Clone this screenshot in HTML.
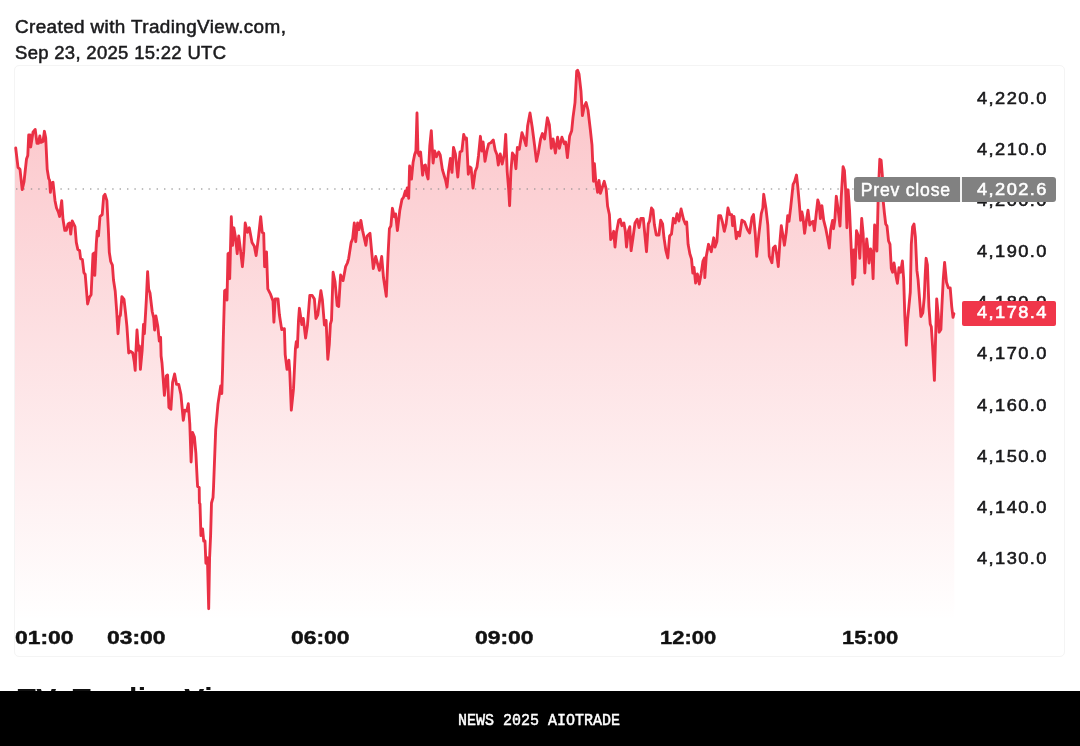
<!DOCTYPE html>
<html lang="en">
<head>
<meta charset="utf-8">
<title>TradingView chart</title>
<style>
html,body{margin:0;padding:0;background:#fff;}
body{width:1080px;height:746px;position:relative;overflow:hidden;font-family:"Liberation Sans",sans-serif;color:#1c1c1e;}
.hdr{position:absolute;left:14.5px;top:14.8px;font-size:17.6px;line-height:25.8px;font-weight:400;color:#1b1b1d;-webkit-text-stroke:0.5px #1b1b1d;white-space:nowrap;}
.hdr span{display:block;transform-origin:0 50%;}
.hdr .l1{letter-spacing:0.35px;transform:scaleX(1.075);}
.hdr .l2{letter-spacing:0.3px;transform:scaleX(1.05);}
.frame{position:absolute;left:14px;top:65px;width:1049px;height:590.4px;border:1px solid #f4f4f4;border-radius:5px;box-sizing:content-box;}
svg.chart{position:absolute;left:0;top:0;}
.pl{position:absolute;left:976.6px;width:80px;height:20px;line-height:20px;font-size:16.6px;letter-spacing:1.3px;color:#19191b;-webkit-text-stroke:0.55px #19191b;white-space:nowrap;transform-origin:0 50%;transform:scaleX(1.1);}
.tl{position:absolute;top:628.1px;height:20px;line-height:20px;font-size:17.6px;font-weight:700;color:#111;white-space:nowrap;transform-origin:0 50%;transform:scaleX(1.30);-webkit-text-stroke:0.4px #111;}
.prev{position:absolute;left:853.7px;top:176.5px;width:202.5px;height:25.2px;background:#818181;border-radius:3px;color:#fff;font-size:16.6px;line-height:26px;white-space:nowrap;}
.prev .a{position:absolute;left:7px;top:0px;font-size:17.6px;letter-spacing:0.8px;-webkit-text-stroke:0.5px #fff;}
.prev .sep{position:absolute;left:106.5px;top:0;width:1.5px;height:25.2px;background:#f4f4f4;}
.prev .b{position:absolute;left:122.9px;top:0.3px;letter-spacing:1.3px;-webkit-text-stroke:0.55px #fff;transform-origin:0 50%;transform:scaleX(1.1);}
.last{position:absolute;left:962px;top:301px;width:94px;height:24.5px;background:#f0364a;border-radius:2px;color:#fff;font-size:16.6px;line-height:24.5px;white-space:nowrap;}
.last span{position:absolute;left:14.6px;top:0;letter-spacing:1.3px;-webkit-text-stroke:0.55px #fff;transform-origin:0 50%;transform:scaleX(1.1);}
.brand{position:absolute;left:17.5px;top:684.2px;font-size:30px;font-weight:700;line-height:30px;color:#111;white-space:nowrap;letter-spacing:0.5px;}
.bar{position:absolute;left:0;top:691px;width:1080px;height:55px;background:#000;}
.bar span{position:absolute;left:458px;top:22.2px;width:162px;text-align:center;font-family:"Liberation Mono",monospace;font-size:15px;transform:scaleY(1.06);-webkit-text-stroke:0.45px #fff;line-height:18px;color:#fff;white-space:nowrap;}
</style>
</head>
<body>
<div class="hdr"><span class="l1">Created with TradingView.com,</span><span class="l2">Sep 23, 2025 15:22 UTC</span></div>
<div class="frame"></div>
<svg class="chart" width="1080" height="691" viewBox="0 0 1080 691">
<defs>
<linearGradient id="g" gradientUnits="userSpaceOnUse" x1="0" y1="66" x2="0" y2="622">
<stop offset="0" stop-color="#f23645" stop-opacity="0.30"/>
<stop offset="1" stop-color="#f23645" stop-opacity="0"/>
</linearGradient>
</defs>
<path d="M15.7,148.0 L18.0,167.4 L20.0,169.3 L22.2,189.6 L24.0,182.0 L26.5,159.0 L27.8,155.4 L28.7,135.0 L30.0,135.0 L30.7,147.0 L33.0,132.2 L35.2,129.4 L37.0,143.3 L38.5,143.3 L39.8,136.0 L41.0,142.4 L43.0,141.5 L44.4,131.3 L45.7,137.8 L47.2,169.3 L48.7,178.5 L49.6,180.4 L50.4,192.4 L51.5,183.0 L53.0,182.2 L55.0,200.7 L56.5,208.0 L58.3,211.9 L59.6,216.5 L61.7,200.7 L63.0,219.3 L64.8,230.4 L66.3,230.4 L68.1,223.9 L69.6,223.0 L70.7,234.0 L72.2,221.0 L75.0,226.7 L76.3,242.4 L77.8,249.4 L79.6,250.4 L80.6,258.7 L82.4,259.6 L83.9,272.6 L85.2,274.4 L87.6,304.0 L89.3,297.6 L91.1,294.8 L93.0,254.0 L94.4,253.0 L94.8,275.4 L96.3,243.9 L97.2,231.3 L98.5,236.0 L100.0,216.5 L102.2,214.6 L103.7,196.0 L105.0,194.3 L106.9,200.7 L108.3,228.5 L109.3,252.2 L110.7,261.5 L112.4,265.2 L113.5,280.0 L115.2,291.0 L116.7,311.5 L118.0,333.7 L119.4,317.0 L120.4,315.2 L121.9,296.7 L124.0,299.4 L125.6,313.3 L126.9,326.3 L128.7,353.0 L130.6,351.3 L132.8,353.0 L134.3,362.0 L135.2,370.4 L136.0,350.0 L137.0,330.0 L138.5,350.4 L139.4,346.0 L140.4,369.4 L142.2,350.0 L143.5,324.4 L144.4,333.7 L146.3,300.4 L147.6,271.7 L148.7,289.3 L150.0,293.0 L152.2,311.5 L153.7,318.0 L154.6,330.0 L155.9,316.0 L157.8,326.3 L159.3,341.0 L160.6,337.4 L161.1,356.0 L162.0,363.0 L164.4,395.4 L166.3,376.0 L167.6,375.0 L168.9,407.4 L170.9,409.3 L172.6,382.4 L174.6,374.0 L176.5,384.3 L178.7,384.3 L180.9,394.4 L183.3,420.4 L184.8,410.2 L186.7,411.0 L188.3,403.7 L189.8,424.0 L191.1,462.0 L192.6,432.4 L194.4,437.0 L195.9,453.7 L197.2,479.6 L197.6,486.5 L199.2,487.4 L199.4,503.0 L200.0,504.0 L200.9,535.6 L202.6,529.0 L203.7,541.0 L205.0,541.0 L205.9,563.3 L207.4,557.8 L208.7,608.7 L209.6,557.8 L210.6,535.6 L211.5,503.0 L213.0,497.6 L213.5,488.0 L215.7,429.6 L218.0,403.7 L219.4,394.4 L220.7,386.0 L221.8,393.5 L222.6,368.0 L223.3,338.0 L224.6,290.7 L226.1,289.8 L227.0,300.0 L228.0,253.7 L229.3,252.8 L229.7,278.7 L231.3,216.7 L232.6,245.4 L233.9,227.8 L235.7,238.9 L237.2,253.7 L238.7,236.0 L240.6,251.0 L242.4,266.7 L243.7,251.9 L245.2,223.0 L247.4,232.4 L249.3,227.8 L252.0,242.6 L254.3,246.3 L256.1,255.6 L258.5,237.0 L260.7,216.7 L262.2,232.4 L263.7,233.3 L264.6,266.7 L266.5,251.9 L267.8,288.9 L270.6,294.4 L273.0,301.0 L273.9,322.2 L275.2,299.0 L278.0,299.0 L279.4,314.8 L281.7,329.6 L284.4,328.7 L285.2,354.6 L287.0,369.4 L288.9,360.2 L289.8,372.2 L291.3,410.2 L293.5,388.9 L295.4,349.0 L296.3,341.7 L297.4,347.0 L298.5,320.4 L299.4,308.3 L301.8,324.5 L303.3,318.5 L305.6,338.0 L307.5,325.0 L309.8,295.4 L312.2,295.4 L314.4,299.0 L315.9,318.5 L317.8,314.8 L320.9,290.7 L322.4,300.0 L324.4,325.0 L326.1,320.4 L327.8,359.3 L329.3,344.4 L330.4,324.0 L331.5,320.4 L333.1,272.2 L335.0,281.5 L337.2,305.6 L338.7,306.5 L340.6,275.0 L343.1,280.6 L345.6,266.7 L347.4,263.0 L348.7,258.3 L351.1,242.6 L352.6,238.9 L354.3,223.0 L355.7,241.7 L357.6,223.0 L359.0,229.6 L360.9,220.4 L362.6,230.6 L365.9,245.4 L367.2,236.0 L370.0,233.3 L371.5,250.0 L373.3,268.5 L375.7,256.5 L377.6,263.9 L379.4,270.4 L381.7,256.5 L383.5,277.8 L386.3,296.3 L388.1,253.7 L389.4,228.7 L390.9,225.9 L392.4,208.3 L394.3,216.7 L395.6,213.9 L397.4,230.6 L399.3,214.8 L399.8,210.4 L402.0,199.3 L403.5,197.4 L405.4,191.0 L406.3,195.6 L407.2,188.0 L408.7,198.3 L409.6,166.0 L411.5,179.0 L413.1,162.2 L414.6,154.8 L415.9,151.0 L417.0,113.0 L418.0,153.0 L419.3,155.7 L420.6,152.0 L422.6,175.2 L423.9,166.0 L425.4,165.0 L426.7,174.3 L428.1,179.0 L429.8,145.6 L431.3,130.7 L433.1,163.0 L434.6,151.0 L436.5,156.7 L438.7,152.0 L440.2,154.8 L442.4,169.6 L444.3,176.0 L445.7,180.7 L447.0,187.2 L448.5,171.5 L450.4,158.5 L452.0,172.4 L453.5,147.4 L455.4,153.9 L457.8,177.0 L460.0,152.0 L461.9,151.0 L463.7,134.4 L465.2,139.0 L466.5,138.0 L468.3,174.3 L469.8,166.9 L471.1,167.8 L473.0,188.0 L475.2,171.5 L477.0,166.9 L478.5,155.7 L480.4,136.3 L481.9,151.0 L483.1,141.9 L485.0,161.3 L486.9,151.0 L488.7,143.7 L490.9,142.8 L493.3,140.0 L495.2,150.2 L497.0,154.8 L498.3,165.0 L500.2,153.9 L502.2,164.0 L504.4,153.9 L505.7,134.4 L507.2,171.5 L508.7,190.0 L509.6,205.7 L510.9,171.5 L512.4,153.0 L514.3,155.7 L515.9,168.7 L517.4,147.4 L519.3,149.3 L522.0,132.6 L523.9,138.0 L526.1,145.6 L527.6,126.0 L530.0,113.0 L532.2,127.0 L534.6,145.6 L536.5,161.3 L538.3,153.0 L540.6,139.0 L542.4,133.5 L544.6,139.0 L547.4,117.8 L549.4,125.0 L551.3,148.3 L553.1,139.0 L555.4,153.0 L557.6,137.2 L559.4,148.3 L561.9,137.2 L564.3,143.7 L565.6,141.9 L567.4,157.6 L569.6,136.3 L571.7,130.7 L573.0,117.4 L575.0,102.6 L576.7,71.0 L577.6,70.2 L579.0,74.0 L581.0,91.5 L582.4,115.6 L584.3,106.3 L586.1,102.6 L588.0,110.0 L590.2,128.5 L592.0,145.2 L593.5,181.3 L594.4,163.7 L595.7,180.4 L597.6,192.4 L599.0,180.4 L600.4,193.3 L602.2,187.8 L604.2,181.3 L606.2,189.0 L607.6,206.3 L609.4,214.6 L610.7,239.6 L612.2,236.9 L613.7,231.3 L615.0,247.0 L616.5,232.2 L618.7,220.2 L620.2,219.3 L621.9,225.7 L623.9,223.0 L625.2,230.4 L626.5,247.0 L628.3,231.3 L629.8,226.7 L631.1,250.7 L633.0,237.8 L635.0,223.0 L637.2,219.3 L639.1,227.6 L640.9,218.3 L643.3,218.3 L644.6,232.2 L646.5,251.7 L648.3,223.9 L649.6,221.0 L651.5,208.0 L653.0,210.0 L654.4,224.8 L656.3,235.0 L658.9,235.0 L660.7,220.2 L662.6,223.9 L664.0,237.8 L665.9,250.7 L667.8,258.0 L669.6,236.0 L671.5,234.0 L673.3,218.3 L675.2,223.0 L677.0,213.7 L678.9,221.0 L681.1,209.0 L683.5,219.3 L685.4,223.9 L686.7,222.0 L688.1,244.3 L690.0,254.4 L691.5,259.0 L692.8,273.0 L694.0,267.4 L695.6,283.0 L697.4,273.9 L699.3,284.0 L701.1,273.9 L703.0,261.0 L704.4,258.0 L704.8,277.6 L706.3,256.3 L708.5,244.3 L711.3,251.7 L713.7,237.8 L715.0,247.0 L716.9,241.5 L718.7,215.6 L720.6,215.6 L722.4,222.0 L724.3,231.3 L726.1,223.9 L728.0,208.0 L729.8,214.6 L731.7,214.6 L732.6,225.7 L734.0,216.5 L736.3,238.7 L738.1,232.2 L739.6,236.0 L741.9,220.2 L744.6,222.0 L747.4,229.4 L749.6,233.0 L752.0,217.4 L753.5,214.6 L755.2,233.0 L756.7,256.3 L758.9,234.0 L761.3,213.7 L762.8,208.0 L763.7,194.3 L765.9,208.0 L767.8,224.8 L769.3,256.3 L771.9,262.8 L773.3,248.0 L775.2,246.0 L776.7,254.4 L778.3,266.5 L779.8,243.3 L781.3,225.7 L783.0,236.0 L784.4,245.2 L786.3,232.0 L787.7,215.6 L789.0,221.3 L790.7,207.4 L793.1,184.3 L794.6,181.5 L796.5,175.0 L797.8,187.0 L799.3,203.7 L800.6,220.4 L801.9,212.0 L803.0,217.6 L804.6,233.3 L806.1,222.2 L808.0,210.2 L809.8,225.0 L811.7,222.2 L813.0,221.3 L814.4,230.6 L816.3,213.0 L817.8,200.0 L819.0,203.7 L820.4,218.5 L821.9,205.6 L823.7,220.4 L825.6,227.8 L827.4,237.0 L829.3,248.0 L830.7,229.6 L832.6,220.4 L833.5,228.7 L834.8,220.4 L836.3,196.3 L838.1,209.3 L840.0,226.0 L841.3,196.3 L843.1,166.7 L844.4,170.4 L845.6,189.0 L846.9,227.8 L848.1,189.8 L849.6,211.0 L851.1,246.3 L852.8,284.3 L853.9,250.0 L854.8,277.8 L856.5,230.6 L858.3,236.0 L859.8,258.3 L861.7,218.5 L863.1,233.3 L864.8,273.0 L866.7,239.0 L868.1,251.0 L869.0,263.0 L870.6,249.0 L871.9,253.7 L873.1,278.7 L874.6,225.0 L876.9,251.0 L878.3,192.6 L879.8,159.3 L881.1,160.2 L882.4,176.0 L883.3,202.0 L884.4,213.0 L885.7,224.0 L887.0,226.0 L888.5,240.7 L890.0,244.4 L891.3,268.5 L892.6,272.2 L894.0,263.0 L896.0,276.0 L897.4,283.3 L899.0,267.6 L900.6,272.2 L902.4,261.0 L903.7,279.6 L904.8,315.6 L906.3,345.2 L907.6,319.3 L908.9,306.3 L910.3,292.0 L911.3,244.4 L912.6,226.9 L914.0,224.0 L915.4,237.0 L916.9,270.4 L918.1,279.6 L918.7,287.8 L920.9,316.5 L922.8,312.8 L924.3,297.0 L925.2,275.0 L926.1,258.3 L927.4,264.8 L928.9,306.3 L930.2,323.9 L931.3,326.7 L932.6,347.0 L934.4,380.4 L935.7,334.0 L936.7,298.9 L938.1,313.7 L939.1,332.2 L940.9,329.4 L941.9,306.3 L943.3,278.5 L944.6,262.4 L946.5,282.2 L948.3,287.8 L950.2,287.8 L951.7,306.3 L953.0,317.4 L953.9,313.7 L954.3,313.7 L954.3,622 L15,622 L15,148.0 Z" fill="url(#g)" stroke="none"/>
<line x1="16" y1="189" x2="856" y2="189" stroke="#8c8c8c" stroke-opacity="0.75" stroke-width="1.4" stroke-dasharray="1.4 6" />
<path d="M15.7,148.0 L18.0,167.4 L20.0,169.3 L22.2,189.6 L24.0,182.0 L26.5,159.0 L27.8,155.4 L28.7,135.0 L30.0,135.0 L30.7,147.0 L33.0,132.2 L35.2,129.4 L37.0,143.3 L38.5,143.3 L39.8,136.0 L41.0,142.4 L43.0,141.5 L44.4,131.3 L45.7,137.8 L47.2,169.3 L48.7,178.5 L49.6,180.4 L50.4,192.4 L51.5,183.0 L53.0,182.2 L55.0,200.7 L56.5,208.0 L58.3,211.9 L59.6,216.5 L61.7,200.7 L63.0,219.3 L64.8,230.4 L66.3,230.4 L68.1,223.9 L69.6,223.0 L70.7,234.0 L72.2,221.0 L75.0,226.7 L76.3,242.4 L77.8,249.4 L79.6,250.4 L80.6,258.7 L82.4,259.6 L83.9,272.6 L85.2,274.4 L87.6,304.0 L89.3,297.6 L91.1,294.8 L93.0,254.0 L94.4,253.0 L94.8,275.4 L96.3,243.9 L97.2,231.3 L98.5,236.0 L100.0,216.5 L102.2,214.6 L103.7,196.0 L105.0,194.3 L106.9,200.7 L108.3,228.5 L109.3,252.2 L110.7,261.5 L112.4,265.2 L113.5,280.0 L115.2,291.0 L116.7,311.5 L118.0,333.7 L119.4,317.0 L120.4,315.2 L121.9,296.7 L124.0,299.4 L125.6,313.3 L126.9,326.3 L128.7,353.0 L130.6,351.3 L132.8,353.0 L134.3,362.0 L135.2,370.4 L136.0,350.0 L137.0,330.0 L138.5,350.4 L139.4,346.0 L140.4,369.4 L142.2,350.0 L143.5,324.4 L144.4,333.7 L146.3,300.4 L147.6,271.7 L148.7,289.3 L150.0,293.0 L152.2,311.5 L153.7,318.0 L154.6,330.0 L155.9,316.0 L157.8,326.3 L159.3,341.0 L160.6,337.4 L161.1,356.0 L162.0,363.0 L164.4,395.4 L166.3,376.0 L167.6,375.0 L168.9,407.4 L170.9,409.3 L172.6,382.4 L174.6,374.0 L176.5,384.3 L178.7,384.3 L180.9,394.4 L183.3,420.4 L184.8,410.2 L186.7,411.0 L188.3,403.7 L189.8,424.0 L191.1,462.0 L192.6,432.4 L194.4,437.0 L195.9,453.7 L197.2,479.6 L197.6,486.5 L199.2,487.4 L199.4,503.0 L200.0,504.0 L200.9,535.6 L202.6,529.0 L203.7,541.0 L205.0,541.0 L205.9,563.3 L207.4,557.8 L208.7,608.7 L209.6,557.8 L210.6,535.6 L211.5,503.0 L213.0,497.6 L213.5,488.0 L215.7,429.6 L218.0,403.7 L219.4,394.4 L220.7,386.0 L221.8,393.5 L222.6,368.0 L223.3,338.0 L224.6,290.7 L226.1,289.8 L227.0,300.0 L228.0,253.7 L229.3,252.8 L229.7,278.7 L231.3,216.7 L232.6,245.4 L233.9,227.8 L235.7,238.9 L237.2,253.7 L238.7,236.0 L240.6,251.0 L242.4,266.7 L243.7,251.9 L245.2,223.0 L247.4,232.4 L249.3,227.8 L252.0,242.6 L254.3,246.3 L256.1,255.6 L258.5,237.0 L260.7,216.7 L262.2,232.4 L263.7,233.3 L264.6,266.7 L266.5,251.9 L267.8,288.9 L270.6,294.4 L273.0,301.0 L273.9,322.2 L275.2,299.0 L278.0,299.0 L279.4,314.8 L281.7,329.6 L284.4,328.7 L285.2,354.6 L287.0,369.4 L288.9,360.2 L289.8,372.2 L291.3,410.2 L293.5,388.9 L295.4,349.0 L296.3,341.7 L297.4,347.0 L298.5,320.4 L299.4,308.3 L301.8,324.5 L303.3,318.5 L305.6,338.0 L307.5,325.0 L309.8,295.4 L312.2,295.4 L314.4,299.0 L315.9,318.5 L317.8,314.8 L320.9,290.7 L322.4,300.0 L324.4,325.0 L326.1,320.4 L327.8,359.3 L329.3,344.4 L330.4,324.0 L331.5,320.4 L333.1,272.2 L335.0,281.5 L337.2,305.6 L338.7,306.5 L340.6,275.0 L343.1,280.6 L345.6,266.7 L347.4,263.0 L348.7,258.3 L351.1,242.6 L352.6,238.9 L354.3,223.0 L355.7,241.7 L357.6,223.0 L359.0,229.6 L360.9,220.4 L362.6,230.6 L365.9,245.4 L367.2,236.0 L370.0,233.3 L371.5,250.0 L373.3,268.5 L375.7,256.5 L377.6,263.9 L379.4,270.4 L381.7,256.5 L383.5,277.8 L386.3,296.3 L388.1,253.7 L389.4,228.7 L390.9,225.9 L392.4,208.3 L394.3,216.7 L395.6,213.9 L397.4,230.6 L399.3,214.8 L399.8,210.4 L402.0,199.3 L403.5,197.4 L405.4,191.0 L406.3,195.6 L407.2,188.0 L408.7,198.3 L409.6,166.0 L411.5,179.0 L413.1,162.2 L414.6,154.8 L415.9,151.0 L417.0,113.0 L418.0,153.0 L419.3,155.7 L420.6,152.0 L422.6,175.2 L423.9,166.0 L425.4,165.0 L426.7,174.3 L428.1,179.0 L429.8,145.6 L431.3,130.7 L433.1,163.0 L434.6,151.0 L436.5,156.7 L438.7,152.0 L440.2,154.8 L442.4,169.6 L444.3,176.0 L445.7,180.7 L447.0,187.2 L448.5,171.5 L450.4,158.5 L452.0,172.4 L453.5,147.4 L455.4,153.9 L457.8,177.0 L460.0,152.0 L461.9,151.0 L463.7,134.4 L465.2,139.0 L466.5,138.0 L468.3,174.3 L469.8,166.9 L471.1,167.8 L473.0,188.0 L475.2,171.5 L477.0,166.9 L478.5,155.7 L480.4,136.3 L481.9,151.0 L483.1,141.9 L485.0,161.3 L486.9,151.0 L488.7,143.7 L490.9,142.8 L493.3,140.0 L495.2,150.2 L497.0,154.8 L498.3,165.0 L500.2,153.9 L502.2,164.0 L504.4,153.9 L505.7,134.4 L507.2,171.5 L508.7,190.0 L509.6,205.7 L510.9,171.5 L512.4,153.0 L514.3,155.7 L515.9,168.7 L517.4,147.4 L519.3,149.3 L522.0,132.6 L523.9,138.0 L526.1,145.6 L527.6,126.0 L530.0,113.0 L532.2,127.0 L534.6,145.6 L536.5,161.3 L538.3,153.0 L540.6,139.0 L542.4,133.5 L544.6,139.0 L547.4,117.8 L549.4,125.0 L551.3,148.3 L553.1,139.0 L555.4,153.0 L557.6,137.2 L559.4,148.3 L561.9,137.2 L564.3,143.7 L565.6,141.9 L567.4,157.6 L569.6,136.3 L571.7,130.7 L573.0,117.4 L575.0,102.6 L576.7,71.0 L577.6,70.2 L579.0,74.0 L581.0,91.5 L582.4,115.6 L584.3,106.3 L586.1,102.6 L588.0,110.0 L590.2,128.5 L592.0,145.2 L593.5,181.3 L594.4,163.7 L595.7,180.4 L597.6,192.4 L599.0,180.4 L600.4,193.3 L602.2,187.8 L604.2,181.3 L606.2,189.0 L607.6,206.3 L609.4,214.6 L610.7,239.6 L612.2,236.9 L613.7,231.3 L615.0,247.0 L616.5,232.2 L618.7,220.2 L620.2,219.3 L621.9,225.7 L623.9,223.0 L625.2,230.4 L626.5,247.0 L628.3,231.3 L629.8,226.7 L631.1,250.7 L633.0,237.8 L635.0,223.0 L637.2,219.3 L639.1,227.6 L640.9,218.3 L643.3,218.3 L644.6,232.2 L646.5,251.7 L648.3,223.9 L649.6,221.0 L651.5,208.0 L653.0,210.0 L654.4,224.8 L656.3,235.0 L658.9,235.0 L660.7,220.2 L662.6,223.9 L664.0,237.8 L665.9,250.7 L667.8,258.0 L669.6,236.0 L671.5,234.0 L673.3,218.3 L675.2,223.0 L677.0,213.7 L678.9,221.0 L681.1,209.0 L683.5,219.3 L685.4,223.9 L686.7,222.0 L688.1,244.3 L690.0,254.4 L691.5,259.0 L692.8,273.0 L694.0,267.4 L695.6,283.0 L697.4,273.9 L699.3,284.0 L701.1,273.9 L703.0,261.0 L704.4,258.0 L704.8,277.6 L706.3,256.3 L708.5,244.3 L711.3,251.7 L713.7,237.8 L715.0,247.0 L716.9,241.5 L718.7,215.6 L720.6,215.6 L722.4,222.0 L724.3,231.3 L726.1,223.9 L728.0,208.0 L729.8,214.6 L731.7,214.6 L732.6,225.7 L734.0,216.5 L736.3,238.7 L738.1,232.2 L739.6,236.0 L741.9,220.2 L744.6,222.0 L747.4,229.4 L749.6,233.0 L752.0,217.4 L753.5,214.6 L755.2,233.0 L756.7,256.3 L758.9,234.0 L761.3,213.7 L762.8,208.0 L763.7,194.3 L765.9,208.0 L767.8,224.8 L769.3,256.3 L771.9,262.8 L773.3,248.0 L775.2,246.0 L776.7,254.4 L778.3,266.5 L779.8,243.3 L781.3,225.7 L783.0,236.0 L784.4,245.2 L786.3,232.0 L787.7,215.6 L789.0,221.3 L790.7,207.4 L793.1,184.3 L794.6,181.5 L796.5,175.0 L797.8,187.0 L799.3,203.7 L800.6,220.4 L801.9,212.0 L803.0,217.6 L804.6,233.3 L806.1,222.2 L808.0,210.2 L809.8,225.0 L811.7,222.2 L813.0,221.3 L814.4,230.6 L816.3,213.0 L817.8,200.0 L819.0,203.7 L820.4,218.5 L821.9,205.6 L823.7,220.4 L825.6,227.8 L827.4,237.0 L829.3,248.0 L830.7,229.6 L832.6,220.4 L833.5,228.7 L834.8,220.4 L836.3,196.3 L838.1,209.3 L840.0,226.0 L841.3,196.3 L843.1,166.7 L844.4,170.4 L845.6,189.0 L846.9,227.8 L848.1,189.8 L849.6,211.0 L851.1,246.3 L852.8,284.3 L853.9,250.0 L854.8,277.8 L856.5,230.6 L858.3,236.0 L859.8,258.3 L861.7,218.5 L863.1,233.3 L864.8,273.0 L866.7,239.0 L868.1,251.0 L869.0,263.0 L870.6,249.0 L871.9,253.7 L873.1,278.7 L874.6,225.0 L876.9,251.0 L878.3,192.6 L879.8,159.3 L881.1,160.2 L882.4,176.0 L883.3,202.0 L884.4,213.0 L885.7,224.0 L887.0,226.0 L888.5,240.7 L890.0,244.4 L891.3,268.5 L892.6,272.2 L894.0,263.0 L896.0,276.0 L897.4,283.3 L899.0,267.6 L900.6,272.2 L902.4,261.0 L903.7,279.6 L904.8,315.6 L906.3,345.2 L907.6,319.3 L908.9,306.3 L910.3,292.0 L911.3,244.4 L912.6,226.9 L914.0,224.0 L915.4,237.0 L916.9,270.4 L918.1,279.6 L918.7,287.8 L920.9,316.5 L922.8,312.8 L924.3,297.0 L925.2,275.0 L926.1,258.3 L927.4,264.8 L928.9,306.3 L930.2,323.9 L931.3,326.7 L932.6,347.0 L934.4,380.4 L935.7,334.0 L936.7,298.9 L938.1,313.7 L939.1,332.2 L940.9,329.4 L941.9,306.3 L943.3,278.5 L944.6,262.4 L946.5,282.2 L948.3,287.8 L950.2,287.8 L951.7,306.3 L953.0,317.4 L953.9,313.7" fill="none" stroke="#ea3045" stroke-width="2.85" stroke-linejoin="round" stroke-linecap="round"/>
</svg>
<div class="pl" style="top:88.8px">4,220.0</div>
<div class="pl" style="top:140.0px">4,210.0</div>
<div class="pl" style="top:191.1px">4,200.0</div>
<div class="pl" style="top:242.2px">4,190.0</div>
<div class="pl" style="top:293.2px">4,180.0</div>
<div class="pl" style="top:344.4px">4,170.0</div>
<div class="pl" style="top:395.5px">4,160.0</div>
<div class="pl" style="top:446.6px">4,150.0</div>
<div class="pl" style="top:497.7px">4,140.0</div>
<div class="pl" style="top:548.8px">4,130.0</div>
<div class="prev"><span class="a">Prev close</span><span class="sep"></span><span class="b">4,202.6</span></div>
<div class="last"><span>4,178.4</span></div>
<div class="tl" style="left:15.3px">01:00</div>
<div class="tl" style="left:107.2px">03:00</div>
<div class="tl" style="left:291.2px">06:00</div>
<div class="tl" style="left:474.8px">09:00</div>
<div class="tl" style="left:659.5px;transform:scaleX(1.247)">12:00</div>
<div class="tl" style="left:841.8px;transform:scaleX(1.247)">15:00</div>
<div class="brand">TV</div><div class="brand" style="left:72.5px">TradingView</div>
<div class="bar"><span>NEWS 2025 AIOTRADE</span></div>
</body>
</html>
